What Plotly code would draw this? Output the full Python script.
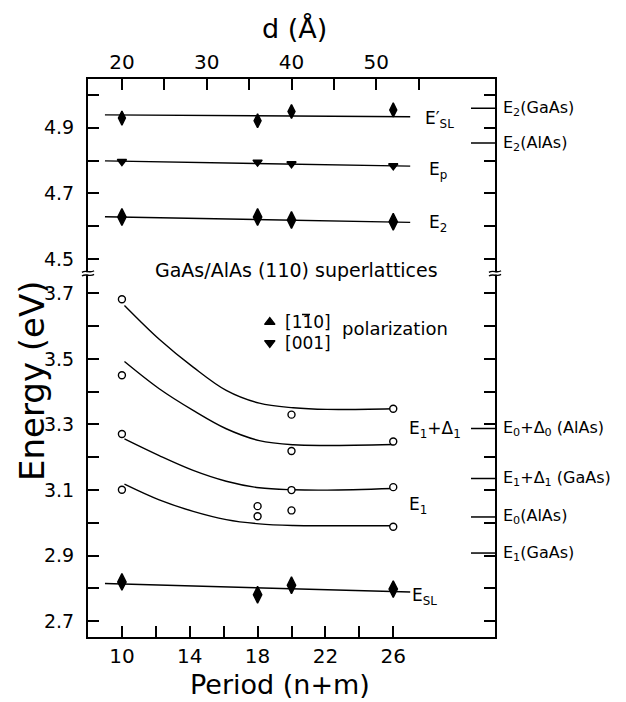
import plotly.graph_objects as go

# ---------------- data ----------------
period = [10, 18, 20, 26]
E_SL_prime = [4.929, 4.921, 4.949, 4.954]
E_p = [4.797, 4.795, 4.790, 4.784]
E_2 = [4.628, 4.628, 4.619, 4.614]
E_SL = [2.820, 2.781, 2.810, 2.798]

open_period_a = [10, 20, 26]
open_E_a = [3.682, 3.330, 3.348]
open_E_b = [3.450, 3.219, 3.248]
open_E_c = [3.271, 3.100, 3.109]
open_period_d = [10, 18, 18, 20, 26]
open_E_d = [3.101, 3.051, 3.020, 3.038, 2.988]

fit_period = [9.0, 27.0]
fit_E_SL_prime = [4.939, 4.933]
fit_E_p = [4.799, 4.783]
fit_E_2 = [4.629, 4.612]
fit_E_SL = [2.815, 2.789]

curve_period = [10.15, 12.2, 14.2, 16.15, 18.1, 20.1, 22.1, 26.0]
curve_a = [3.663, 3.560, 3.475, 3.404, 3.365, 3.351, 3.346, 3.348]
curve_b = [3.492, 3.409, 3.343, 3.287, 3.251, 3.238, 3.236, 3.239]
curve_c = [3.256, 3.205, 3.160, 3.127, 3.107, 3.101, 3.100, 3.105]
curve_d = [3.118, 3.070, 3.035, 3.010, 2.997, 2.992, 2.991, 2.991]

ref_labels = ["E<sub>2</sub>(GaAs)", "E<sub>2</sub>(AlAs)",
              "E<sub>0</sub>+\u0394<sub>0</sub> (AlAs)", "E<sub>1</sub>+\u0394<sub>1</sub> (GaAs)",
              "E<sub>0</sub>(AlAs)", "E<sub>1</sub>(GaAs)"]
ref_E = [4.959, 4.853, 3.288, 3.135, 3.018, 2.908]

x_ticks = [10, 12, 14, 16, 18, 20, 22, 24, 26]
x_labels = ["10", "", "14", "", "18", "", "22", "", "26"]
d_ticks = [20, 25, 30, 35, 40, 45, 50, 55]
d_labels = ["20", "", "30", "", "40", "", "50", ""]
y_low_ticks = [2.7, 2.8, 2.9, 3.0, 3.1, 3.2, 3.3, 3.4, 3.5, 3.6, 3.7]
y_low_labels = ["2.7", "", "2.9", "", "3.1", "", "3.3", "", "3.5", "", "3.7"]
y_up_ticks = [4.5, 4.6, 4.7, 4.8, 4.9, 5.0]
y_up_labels = ["4.5", "", "4.7", "", "4.9", ""]

# ---------------- figure ----------------
FONT = "DejaVu Sans"
W, H = 626, 702
ML, MR, MT, MB = 88, 131, 79, 65
PW, PH = W - ML - MR, H - MT - MB
SPLIT = (637 - 273.3) / PH


def pp(px, py):
    return (px - ML) / PW, (H - MB - py) / PH


def p_of(px):
    return 8 + (px - ML) * 24.0 / PW


fig = go.Figure()


def add_line(x, y, xa, ya, shape="linear"):
    fig.add_trace(go.Scatter(x=x, y=y, mode="lines", line=dict(color="black", width=1.4, shape=shape,
                                                              smoothing=1.0),
                             xaxis=xa, yaxis=ya, hoverinfo="skip", showlegend=False))


def add_markers(x, y, xa, ya, symbol, size, fill="black"):
    fig.add_trace(go.Scatter(x=x, y=y, mode="markers",
                             marker=dict(symbol=symbol, size=size, color=fill,
                                         line=dict(color="black", width=1.4)),
                             xaxis=xa, yaxis=ya, showlegend=False))


# upper panel
add_line(fit_period, fit_E_SL_prime, "x2", "y2")
add_line(fit_period, fit_E_p, "x2", "y2")
add_line(fit_period, fit_E_2, "x2", "y2")
add_markers(period, E_SL_prime, "x2", "y2", "diamond-tall", 10)
add_markers(period, E_p, "x2", "y2", "triangle-down", 8)
add_markers(period, E_2, "x2", "y2", "diamond-tall", 12)

# lower panel
for cv in (curve_a, curve_b, curve_c, curve_d):
    add_line(curve_period, cv, "x", "y", shape="spline")
add_line(fit_period, fit_E_SL, "x", "y")
add_markers(period, E_SL, "x", "y", "diamond-tall", 12)
for px_, ey in ((open_period_a, open_E_a), (open_period_a, open_E_b),
                (open_period_a, open_E_c), (open_period_d, open_E_d)):
    add_markers(px_, ey, "x", "y", "circle", 7, fill="white")

# polarization key markers
add_markers([18.72], [3.612], "x", "y", "triangle-up", 9)
add_markers([18.72], [3.549], "x", "y", "triangle-down", 9)

axis_common = dict(showgrid=False, zeroline=False, showline=True, linecolor="black", linewidth=2,
                   ticks="inside", ticklen=11, tickwidth=1.5, tickcolor="black",
                   tickfont=dict(family=FONT, size=20, color="black"))
ytick_font = dict(family=FONT, size=19, color="black")

fig.update_layout(
    width=W, height=H,
    margin=dict(l=ML, r=MR, t=MT, b=MB, pad=0, autoexpand=False),
    paper_bgcolor="white", plot_bgcolor="white",
    font=dict(family=FONT, color="black"),
    showlegend=False,
    xaxis=dict(domain=[0, 1], anchor="y", range=[8, 32], tickmode="array",
               tickvals=x_ticks, ticktext=x_labels, **axis_common),
    xaxis2=dict(domain=[0, 1], anchor="y2", side="top", matches="x", range=[8, 32], tickmode="array",
                tickvals=[d / 2 for d in d_ticks], ticktext=d_labels, **axis_common),
    yaxis=dict(domain=[0, SPLIT], anchor="x", range=[2.652, 3.761], tickmode="array",
               tickvals=y_low_ticks, ticktext=y_low_labels, mirror="ticks", ticklabelstandoff=8,
               **{**axis_common, "tickfont": ytick_font}),
    yaxis2=dict(domain=[SPLIT, 1], anchor="x2", range=[4.457, 5.048], tickmode="array",
                tickvals=y_up_ticks, ticktext=y_up_labels, mirror="ticks", ticklabelstandoff=8,
                **{**axis_common, "tickfont": ytick_font}),
)

shapes = []
# reference energy marks at right axis
x0r, _ = pp(471, 0)
for lab, e in zip(ref_labels, ref_E):
    yr = "y2" if e > 4 else "y"
    shapes.append(dict(type="line", xref="paper", yref=yr, x0=x0r, x1=1.0, y0=e, y1=e,
                       line=dict(color="black", width=1.5)))
    fig.add_annotation(xref="paper", yref=yr, x=pp(501, 0)[0], y=e, text=lab, showarrow=False,
                       xanchor="left", yanchor="middle", font=dict(family=FONT, size=16))

# axis break marks
for ax_px in (ML, ML + PW):
    a0 = pp(ax_px - 4, 272.2)
    a1 = pp(ax_px + 4, 274.6)
    shapes.append(dict(type="rect", xref="paper", yref="paper", x0=a0[0], x1=a1[0], y0=a1[1], y1=a0[1],
                       fillcolor="white", line=dict(width=0), layer="above"))
    for cy in (271.6, 275.2):
        p0 = pp(ax_px - 6, cy + 0.8)
        c1 = pp(ax_px - 2, cy - 2.2)
        c2 = pp(ax_px + 2, cy + 2.2)
        p3 = pp(ax_px + 6, cy - 0.8)
        path = f"M{p0[0]},{p0[1]} C{c1[0]},{c1[1]} {c2[0]},{c2[1]} {p3[0]},{p3[1]}"
        shapes.append(dict(type="path", xref="paper", yref="paper", path=path,
                           line=dict(color="black", width=1.4), layer="above"))

# overline on the middle "1" of [1-10]
ol0 = pp(302, 314.5)
ol1 = pp(310, 314.5)
shapes.append(dict(type="line", xref="paper", yref="paper", x0=ol0[0], x1=ol1[0], y0=ol0[1], y1=ol1[1],
                   line=dict(color="black", width=1.5)))
fig.update_layout(shapes=shapes)

# curve labels
lab_font = dict(family=FONT, size=17, color="black")
curve_labels = [("E\u2032<sub>SL</sub>", 27.75, 4.925, "x2", "y2"),
                ("E<sub>p</sub>", 27.99, 4.770, "x2", "y2"),
                ("E<sub>2</sub>", 27.99, 4.607, "x2", "y2"),
                ("E<sub>1</sub>+\u0394<sub>1</sub>", 26.81, 3.285, "x", "y"),
                ("E<sub>1</sub>", 26.81, 3.052, "x", "y"),
                ("E<sub>SL</sub>", 26.99, 2.776, "x", "y")]
for txt, xx, yy, xa, ya in curve_labels:
    fig.add_annotation(xref=xa, yref=ya, x=xx, y=yy, text=txt, showarrow=False,
                       xanchor="left", yanchor="middle", font=lab_font)

# key text
fig.add_annotation(xref="x", yref="y", x=p_of(283), y=3.612, text="[110]", showarrow=False,
                   xanchor="left", yanchor="middle", font=dict(family=FONT, size=17))
fig.add_annotation(xref="x", yref="y", x=p_of(283), y=3.549, text="[001]", showarrow=False,
                   xanchor="left", yanchor="middle", font=dict(family=FONT, size=17))
fig.add_annotation(xref="x", yref="y", x=p_of(340), y=3.594, text="polarization", showarrow=False,
                   xanchor="left", yanchor="middle", font=dict(family=FONT, size=18))

# panel title
t = pp(296, 270)
fig.add_annotation(xref="paper", yref="paper", x=t[0], y=t[1], text="GaAs/AlAs (110) superlattices",
                   showarrow=False, xanchor="center", yanchor="middle", font=dict(family=FONT, size=19))

# axis titles
a = pp(32, 381)
fig.add_annotation(xref="paper", yref="paper", x=a[0], y=a[1], text="Energy (eV)", textangle=-90,
                   showarrow=False, xanchor="center", yanchor="middle", font=dict(family=FONT, size=34))
a = pp(294, 29)
fig.add_annotation(xref="paper", yref="paper", x=a[0], y=a[1], text="d (\u00c5)",
                   showarrow=False, xanchor="center", yanchor="middle", font=dict(family=FONT, size=27))
a = pp(280, 684)
fig.add_annotation(xref="paper", yref="paper", x=a[0], y=a[1], text="Period (n+m)",
                   showarrow=False, xanchor="center", yanchor="middle", font=dict(family=FONT, size=27))

fig.write_html("out.html", config={"displayModeBar": False},
               post_script="document.body.style.margin='0';document.body.style.padding='0';")
